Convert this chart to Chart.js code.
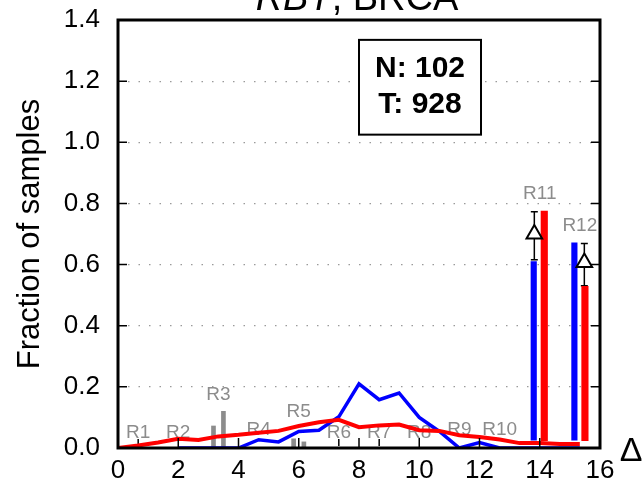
<!DOCTYPE html>
<html><head><meta charset="utf-8">
<script src="https://cdn.jsdelivr.net/npm/chart.js@4.4.0/dist/chart.umd.min.js"></script>
<style>html,body{margin:0;padding:0;background:#fff}#wrap{width:643px;height:486px;position:relative}</style>
</head><body><div id="wrap"><canvas id="c"></canvas></div>
<script>
// ---- data ----
const xPositions = [0,0.67,1.33,2,2.67,3.33,4,4.67,5.33,6,6.67,7.33,8,8.67,9.33,10,10.67,11.33,12,12.67,13.33,14,14.67,15.33];
const redLine  = [0.0,0.008,0.018,0.03,0.026,0.038,0.043,0.05,0.056,0.072,0.084,0.092,0.068,0.074,0.077,0.058,0.056,0.042,0.036,0.028,0.016,0.016,0.013,0.013];
const blueLine = [null,null,null,0,0,0,0,0.027,0.02,0.054,0.058,0.102,0.21,0.158,0.18,0.1,0.054,0,0.018,0,0,0,0,0];
const regionLabels = ['R1','R2','R3','R4','R5','R6','R7','R8','R9','R10','R11','R12'];
const regionX = [0.67,2,3.33,4.67,6,7.33,8.67,10,11.33,12.67,14,15.33];
const regionLabelY = [0.033,0.033,0.157,0.043,0.10,0.033,0.033,0.033,0.043,0.043,0.815,0.71];
const regionMarker = [true,false,false,false,false,true,true,false,false,false,false,false];
const grayBarX = [3.17,3.5,5.83,6.17];
const grayBarY = [0.072,0.12,0.03,0.02];
const blueBarX = [13.8,15.15];
const blueBarY = [0.61,0.671];
const redBarX  = [14.15,15.5];
const redBarY  = [0.775,0.529];
const triX    = [13.82,15.48];
const triY    = [0.70,0.607];
const triLow  = [0.616,0.531];
const triHigh = [0.773,0.669];
const xTicks = [0,2,4,6,8,10,12,14,16];
const yTicks = [0,0.2,0.4,0.6,0.8,1.0,1.2,1.4];
const titleItalic = 'RBT';
const titleRest = ', BRCA';
const boxLines = ['N: 102','T: 928'];
const yTitle = 'Fraction of samples';
const xTitle = 'Δ';

const FONT = "'Liberation Sans', Arial, Helvetica, sans-serif";

const pts = (xs, ys) => xs.map((x,i)=>({x:x, y:ys[i]}));

const overlay = {
  id:'overlay',
  beforeDatasetsDraw(chart){
    const {ctx, scales:{x,y}} = chart;
    ctx.save();
    ctx.font = '19px ' + FONT;
    ctx.fillStyle = '#8c8c8c';
    ctx.textAlign = 'center';
    ctx.textBaseline = 'alphabetic';
    regionLabels.forEach((t,i)=>{
      const px = x.getPixelForValue(regionX[i]);
      const py = y.getPixelForValue(regionLabelY[i]);
      ctx.fillText(t, px, py);
      if (regionMarker[i]) {
        ctx.strokeStyle = '#000'; ctx.lineWidth = 1.5;
        ctx.beginPath(); ctx.moveTo(px, py + 1); ctx.lineTo(px, py + 8); ctx.stroke();
      }
    });
    // error bars
    ctx.strokeStyle = '#000'; ctx.lineWidth = 1.5;
    triX.forEach((tx,i)=>{
      const px = x.getPixelForValue(tx);
      const lo = y.getPixelForValue(triLow[i]);
      const hi = y.getPixelForValue(triHigh[i]);
      ctx.beginPath();
      ctx.moveTo(px, lo); ctx.lineTo(px, hi);
      ctx.moveTo(px-3.5, lo); ctx.lineTo(px+3.5, lo);
      ctx.moveTo(px-3.5, hi); ctx.lineTo(px+3.5, hi);
      ctx.stroke();
    });
    ctx.restore();
  },
  afterDraw(chart){
    const {ctx, chartArea:a, scales:{x,y}} = chart;
    ctx.save();
    ctx.strokeStyle = '#000';
    // inward ticks
    ctx.lineWidth = 1.5;
    ctx.beginPath();
    yTicks.forEach(v=>{
      const py = y.getPixelForValue(v);
      ctx.moveTo(a.left, py); ctx.lineTo(a.left+9, py);
      ctx.moveTo(a.right, py); ctx.lineTo(a.right-9, py);
    });
    xTicks.forEach(v=>{
      const px = x.getPixelForValue(v);
      ctx.moveTo(px, a.bottom); ctx.lineTo(px, a.bottom-10);
    });
    ctx.stroke();
    // frame
    ctx.lineWidth = 3;
    ctx.strokeRect(a.left, a.top, a.right-a.left, a.bottom-a.top);
    // info box
    const bx = x.getPixelForValue(8.0), by = y.getPixelForValue(1.335);
    const bx2 = x.getPixelForValue(12.05), by2 = y.getPixelForValue(1.025);
    ctx.fillStyle = '#fff';
    ctx.fillRect(bx, by, bx2-bx, by2-by);
    ctx.lineWidth = 2;
    ctx.strokeRect(bx, by, bx2-bx, by2-by);
    ctx.fillStyle = '#000';
    ctx.font = 'bold 30px ' + FONT;
    ctx.textAlign = 'center';
    ctx.textBaseline = 'alphabetic';
    const cx = (bx+bx2)/2;
    ctx.fillText(boxLines[0], cx, by + 37);
    ctx.fillText(boxLines[1], cx, by + 73);
    // x axis title
    ctx.font = '34px ' + FONT;
    ctx.textAlign = 'center';
    ctx.fillText(xTitle, 631, 461);
    // title
    ctx.font = 'italic 38px ' + FONT;
    const w1 = ctx.measureText(titleItalic).width;
    ctx.font = '38px ' + FONT;
    const w2 = ctx.measureText(titleRest).width;
    const start = (a.left + a.right)/2 - (w1+w2)/2 - 2;
    ctx.textAlign = 'left';
    ctx.font = 'italic 38px ' + FONT;
    ctx.fillText(titleItalic, start, 10);
    ctx.font = '38px ' + FONT;
    ctx.fillText(titleRest, start + w1, 10);
    ctx.restore();
  }
};

const datasets = [
  {type:'bar', data: pts(grayBarX, grayBarY), backgroundColor:'#8c8c8c', barThickness:4, grouped:false, order:5},
  {type:'bar', data: pts(blueBarX, blueBarY), backgroundColor:'#0000ff', barThickness:5.5, grouped:false, base:0.026, order:4},
  {type:'bar', data: pts(redBarX, redBarY), backgroundColor:'#ff0000', barThickness:6.5, grouped:false, base:0.024, order:4},
  {type:'line', data: pts(xPositions, blueLine), borderColor:'#0000ff', borderWidth:3.5, pointRadius:0, tension:0, spanGaps:false, order:3},
  {type:'line', data: pts(xPositions, redLine), borderColor:'#ff0000', borderWidth:4, pointRadius:0, tension:0, order:2},
  {type:'scatter', data: pts(triX, triY), pointStyle:'triangle', pointRadius:9, backgroundColor:'#ffffff', borderColor:'#000', borderWidth:2, showLine:false, order:1}
];

new Chart(document.getElementById('c'), {
  type:'line',
  data:{datasets},
  options:{
    responsive:true, maintainAspectRatio:false, animation:false,
    devicePixelRatio:1,
    layout:{padding:{top:20,right:43,left:0,bottom:0}},
    plugins:{legend:{display:false}, tooltip:{enabled:false}, title:{display:false}},
    scales:{
      x:{type:'linear', min:0, max:16, offset:false,
        afterBuildTicks: s => { s.ticks = xTicks.map(v=>({value:v})); },
        afterFit: s => { s.height = 38; s.paddingLeft = 0; s.paddingRight = 0; },
        grid:{display:false, drawTicks:false}, border:{display:false},
        ticks:{font:{family:FONT, size:26}, color:'#000', padding:7, maxRotation:0, autoSkip:false}
      },
      y:{type:'linear', min:0, max:1.4,
        afterBuildTicks: s => { s.ticks = yTicks.map(v=>({value:v})); },
        afterFit: s => { s.width = 118; s.paddingTop = 0; s.paddingBottom = 0; },
        grid:{drawTicks:false, lineWidth:1.2,
          color: c => (c.tick && (c.tick.value === 0 || c.tick.value === 1.4)) ? 'rgba(0,0,0,0)' : '#9a9a9a'},
        border:{display:false, dash:[1.5,9], dashOffset:-10},
        ticks:{font:{family:FONT, size:26}, color:'#000', padding:18, callback: v => v.toFixed(1)},
        title:{display:true, text:yTitle, font:{family:FONT, size:31}, color:'#000', padding:{top:12,bottom:0}}
      }
    }
  },
  plugins:[overlay]
});
</script>
</body></html>
